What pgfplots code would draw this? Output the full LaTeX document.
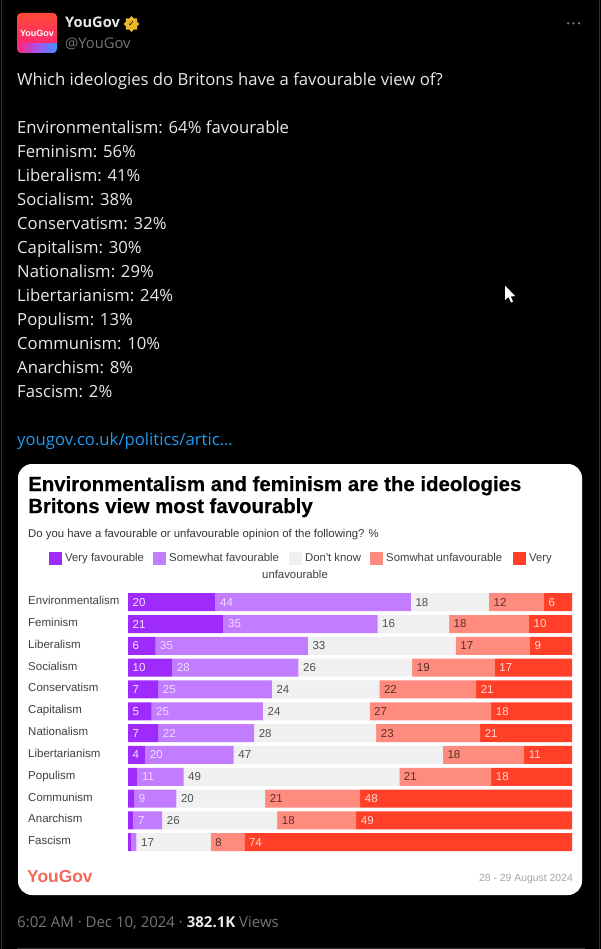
\documentclass[border=0pt]{standalone}
\usepackage{fontspec}
\setmainfont{Open Sans}
\newfontfamily\cardfont{Liberation Sans}
\newfontfamily\titlefont[BoldFeatures={FakeBold=0.5}]{Liberation Sans}
\newfontfamily\symfont{DejaVu Sans}
\usepackage{pgfplots}
\usepackage{pgfplotstable}
\pgfplotsset{compat=1.18}
\usetikzlibrary{shapes.geometric}
\definecolor{vf}{HTML}{9E2BFB}
\definecolor{sf}{HTML}{C27CFF}
\definecolor{dk}{HTML}{F0F0F0}
\definecolor{su}{HTML}{FF8A7E}
\definecolor{vu}{HTML}{FF3F28}
\definecolor{twtext}{HTML}{E7E9EA}
\definecolor{twgrey}{HTML}{71767B}
\definecolor{twblue}{HTML}{1D9BF0}
\definecolor{twline}{HTML}{2F3336}
\definecolor{lblgrey}{HTML}{505050}
\definecolor{ygred}{HTML}{F4695C}
\definecolor{badge}{HTML}{E9B82A}
\pgfplotstableread{
row v1 v2 v3 v4 v5 l1 l2 l3 l4 l5
0 19.7 44.0 17.6 12.4 6.3 20 44 18 12 6
1 21.5 34.7 16.1 18.0 9.7 21 35 16 18 10
2 6.2 34.3 33.3 16.7 9.5 6 35 33 17 9
3 10.0 28.4 25.6 18.6 17.4 10 28 26 19 17
4 6.8 25.6 24.2 21.8 21.6 7 25 24 22 21
5 5.3 25.1 24.0 27.4 18.2 5 25 24 27 18
6 6.8 21.6 27.5 23.4 20.7 7 22 28 23 21
7 3.9 19.9 47.1 18.3 10.8 4 20 47 18 11
8 2.1 10.4 48.6 20.7 18.2 {} 11 49 21 18
9 1.4 9.5 20.0 21.4 47.7 {} 9 20 21 48
10 1.2 6.5 25.9 17.8 48.6 {} 7 26 18 49
11 0.75 1.15 16.7 7.6 73.8 {} {} 17 8 74
}\ideologies
\newcommand{\twtxt}[2]{\node[anchor=base west,inner sep=0,text=twtext,font=\fontsize{16.7}{16.7}\selectfont] at (17,#1) {#2};}
\newcommand{\cardtxt}[4][black]{\node[anchor=base west,inner sep=0,text=#1,font=\cardfont\fontsize{11.35}{11.35}\selectfont] at (#2,#3) {#4};}
\begin{document}
\begin{tikzpicture}[x=1pt,y=-1pt]
\fill[black] (0,0) rectangle (601,949);
% page frame of the screenshot
\fill[twline] (0.6,0) rectangle (1.6,949);
\fill[twline] (598.6,0) rectangle (599.6,949);
\fill[twline] (17,947.6) rectangle (585,948.6);
% profile picture
\begin{scope}
\clip[rounded corners=4] (17,13) rectangle (57,53);
\shade[top color={rgb,255:red,255;green,75;blue,55},bottom color={rgb,255:red,255;green,40;blue,110}] (17,13) rectangle (57,44);
\shade[left color={rgb,255:red,255;green,40;blue,120},right color={rgb,255:red,60;green,150;blue,255},middle color={rgb,255:red,170;green,80;blue,240}] (17,44) rectangle (57,53);
\end{scope}
\node[text=white,inner sep=0,font=\cardfont\bfseries\fontsize{9}{9}\selectfont] at (37,33) {YouGov};
% name
\node[anchor=base west,inner sep=0,text=twtext,font=\bfseries\fontsize{14.6}{14.6}\selectfont] at (65,28) {YouGov};
\node[star,star points=8,star point ratio=1.35,minimum size=16pt,inner sep=0,fill=badge] at (131.5,24) {};
\node[text=black,inner sep=0,font=\symfont\fontsize{8}{8}\selectfont] at (131.5,24) {✓};
\node[anchor=base west,inner sep=0,text=twgrey,font=\fontsize{14.7}{14.7}\selectfont] at (65,49) {@YouGov};
\foreach \x in {568,573.5,579} \fill[twgrey] (\x,23.3) circle (1.3);
% tweet text
\twtxt{85.4}{Which ideologies do Britons have a favourable view of?}
\twtxt{133.4}{Environmentalism: 64\% favourable}
\twtxt{157.4}{Feminism: 56\%}
\twtxt{181.4}{Liberalism: 41\%}
\twtxt{205.4}{Socialism: 38\%}
\twtxt{229.4}{Conservatism: 32\%}
\twtxt{253.4}{Capitalism: 30\%}
\twtxt{277.4}{Nationalism: 29\%}
\twtxt{301.4}{Libertarianism: 24\%}
\twtxt{325.4}{Populism: 13\%}
\twtxt{349.4}{Communism: 10\%}
\twtxt{373.4}{Anarchism: 8\%}
\twtxt{397.4}{Fascism: 2\%}
\node[anchor=base west,inner sep=0,text=twblue,font=\fontsize{16.7}{16.7}\selectfont] at (17,445.4) {yougov.co.uk/politics/artic…};
% cursor
\fill[white] (505,285.5) -- (505,300) -- (508.5,297) -- (511,302.5) -- (513,301.5) -- (510.8,296.5) -- (515,296) -- cycle;
% card
\fill[white,rounded corners=14] (18,464) rectangle (582,895);
\node[anchor=base west,inner sep=0,text=black,font=\titlefont\bfseries\fontsize{20.4}{20.4}\selectfont] at (28,491) {Environmentalism and feminism are the ideologies};
\node[anchor=base west,inner sep=0,text=black,font=\titlefont\bfseries\fontsize{20.4}{20.4}\selectfont] at (28,513) {Britons view most favourably};
\cardtxt[black!80]{28}{537}{Do you have a favourable or unfavourable opinion of the following? \%}
% legend
\fill[vf] (49,552) rectangle (62,565);
\cardtxt[black!75]{65}{561.3}{Very favourable}
\fill[sf] (153,552) rectangle (166,565);
\cardtxt[black!75]{169}{561.3}{Somewhat favourable}
\fill[dk] (289,552) rectangle (302,565);
\cardtxt[black!75]{305}{561.3}{Don't know}
\fill[su] (370,552) rectangle (383,565);
\cardtxt[black!75]{386}{561.3}{Somwhat unfavourable}
\fill[vu] (513,552) rectangle (526,565);
\cardtxt[black!75]{529}{561.3}{Very}
\cardtxt[black!75]{262}{578}{unfavourable}
% bars
\begin{axis}[
  at={(128pt,-853.1pt)},anchor=south west,
  scale only axis,width=444pt,height=261.8pt,
  xbar stacked,bar width=18pt,
  xmin=0,xmax=100,ymin=-0.5,ymax=11.5,y dir=reverse,
  axis line style={draw=none},
  x axis line style={draw=none},
  xtick=\empty,major tick length=0pt,
  ytick={0,...,11},
  yticklabels={Environmentalism,Feminism,Liberalism,Socialism,Conservatism,Capitalism,Nationalism,Libertarianism,Populism,Communism,Anarchism,Fascism},
  yticklabel style={anchor=base west,inner sep=0,xshift=-100pt,yshift=-2.5pt,text=black!75,font=\cardfont\fontsize{11.5}{11.5}\selectfont},
]
\addplot[fill=vf,draw=none] table[x=v1,y=row]{\ideologies};
\addplot[fill=sf,draw=none] table[x=v2,y=row]{\ideologies};
\addplot[fill=dk,draw=none] table[x=v3,y=row]{\ideologies};
\addplot[fill=su,draw=none] table[x=v4,y=row]{\ideologies};
\addplot[fill=vu,draw=none] table[x=v5,y=row]{\ideologies};
\end{axis}
% value labels, left aligned at the start of each segment
\begin{axis}[
  at={(128pt,-853.1pt)},anchor=south west,
  scale only axis,width=444pt,height=261.8pt,
  xmin=0,xmax=100,ymin=-0.5,ymax=11.5,y dir=reverse,
  hide axis,clip=false,
  point meta=explicit symbolic,
  nodes near coords,
  nodes near coords style={anchor=west,inner sep=0,xshift=4.5pt,font=\cardfont\fontsize{11.5}{11.5}\selectfont},
]
\addplot[only marks,mark=none,nodes near coords style={text=white!88!vf}] table[x expr=0,y=row,meta=l1]{\ideologies};
\addplot[only marks,mark=none,nodes near coords style={text=white!75!sf}] table[x expr=\thisrow{v1},y=row,meta=l2]{\ideologies};
\addplot[only marks,mark=none,nodes near coords style={text=lblgrey}] table[x expr=\thisrow{v1}+\thisrow{v2},y=row,meta=l3]{\ideologies};
\addplot[only marks,mark=none,nodes near coords style={text=black!65!su}] table[x expr=\thisrow{v1}+\thisrow{v2}+\thisrow{v3},y=row,meta=l4]{\ideologies};
\addplot[only marks,mark=none,nodes near coords style={text=white!80!vu}] table[x expr=\thisrow{v1}+\thisrow{v2}+\thisrow{v3}+\thisrow{v4},y=row,meta=l5]{\ideologies};
\end{axis}
% footer of card
\node[anchor=base west,inner sep=0,text=ygred,font=\cardfont\bfseries\fontsize{17.4}{17.4}\selectfont] at (27,882) {YouGov};
\node[anchor=base east,inner sep=0,text=black!35,font=\cardfont\fontsize{10.4}{10.4}\selectfont] at (573,881) {28 - 29 August 2024};
% time line
\node[anchor=base west,inner sep=0,text=twgrey,font=\fontsize{15}{15}\selectfont] at (17,927) {6:02 AM · Dec 10, 2024 · {\bfseries\color{twtext}382.1K} Views};
\end{tikzpicture}
\end{document}
